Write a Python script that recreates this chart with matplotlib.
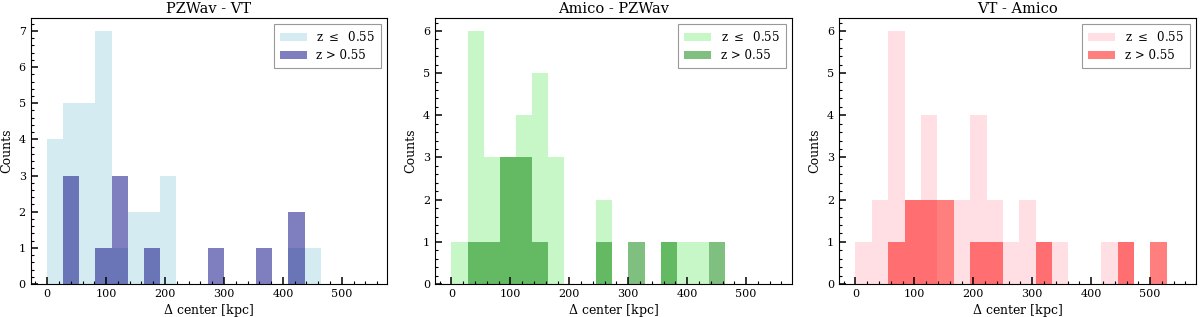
import numpy as np
import matplotlib
matplotlib.use("Agg")
import matplotlib.pyplot as plt
from matplotlib.ticker import MultipleLocator, AutoMinorLocator

plt.rcParams['font.family'] = ['DejaVu Serif', 'DejaVu Sans']
plt.rcParams['mathtext.fontset'] = 'dejavuserif'

titles = ["PZWav - VT", "Amico - PZWav", "VT - Amico"]

# bin widths (kpc) and number of bins per panel
bin_width_1 = 27.3
bin_width_2 = 27.3
bin_width_3 = 27.8
nbins_1 = 17
nbins_2 = 17
nbins_3 = 19

# counts per bin, low-z (z <= 0.55) and high-z (z > 0.55)
low_1 = [4, 5, 5, 7, 1, 2, 2, 3, 0, 0, 0, 0, 0, 0, 0, 1, 1]
high_1 = [0, 3, 0, 1, 3, 0, 1, 0, 0, 0, 1, 0, 0, 1, 0, 2, 0]

low_2 = [1, 6, 3, 3, 4, 5, 3, 0, 0, 2, 0, 0, 0, 1, 1, 1, 0]
high_2 = [0, 1, 1, 3, 3, 1, 0, 0, 0, 1, 0, 1, 0, 1, 0, 0, 1]

low_3 = [1, 2, 6, 2, 4, 0, 2, 4, 2, 1, 2, 1, 1, 0, 0, 1, 1, 0, 0]
high_3 = [0, 0, 1, 2, 2, 2, 0, 1, 1, 0, 0, 1, 0, 0, 0, 0, 1, 0, 1]

colors_low = ["lightblue", "lightgreen", "pink"]
colors_high = ["navy", "green", "red"]

labels = [r"z $\leq$  0.55", "z > 0.55"]

panels = [
    (bin_width_1, nbins_1, low_1, high_1),
    (bin_width_2, nbins_2, low_2, high_2),
    (bin_width_3, nbins_3, low_3, high_3),
]

fig = plt.figure(figsize=(12, 3.17), dpi=100)
lefts = [30.7, 435, 839]
width_px = 356.5
bottom = 1 - 284 / 317
top = 1 - 18.3 / 317

for i, (bw, nb, low, high) in enumerate(panels):
    ax = fig.add_axes([lefts[i] / 1200, bottom, width_px / 1200, top - bottom])
    edges = np.arange(nb + 1) * bw
    centers = 0.5 * (edges[:-1] + edges[1:])
    ax.hist(centers, bins=edges, weights=low, color=colors_low[i], alpha=0.5,
            label=labels[0])
    ax.hist(centers, bins=edges, weights=high, color=colors_high[i], alpha=0.5,
            label=labels[1])
    ax.set_xlim(-28, 577)
    ax.set_title(titles[i], fontsize=10.5, pad=4)
    ax.set_xlabel(r"$\Delta$ center [kpc]", fontsize=9, labelpad=2)
    ax.set_ylabel("Counts", fontsize=9, labelpad=4)
    ax.xaxis.set_major_locator(MultipleLocator(100))
    ax.xaxis.set_minor_locator(MultipleLocator(20))
    ax.yaxis.set_major_locator(MultipleLocator(1))
    ax.yaxis.set_minor_locator(AutoMinorLocator(5))
    ax.tick_params(which='major', direction='in', length=5, width=1.1,
                   labelsize=8, top=False, right=False)
    ax.tick_params(which='minor', direction='in', length=2.5, width=0.8,
                   top=False, right=False)
    leg = ax.legend(loc='upper right', fontsize=8.5, fancybox=False,
                    edgecolor='0.6', framealpha=1, handlelength=2.3,
                    borderpad=0.5, labelspacing=0.4)
    leg.get_frame().set_linewidth(0.8)

fig.savefig("out.png", dpi=100)
